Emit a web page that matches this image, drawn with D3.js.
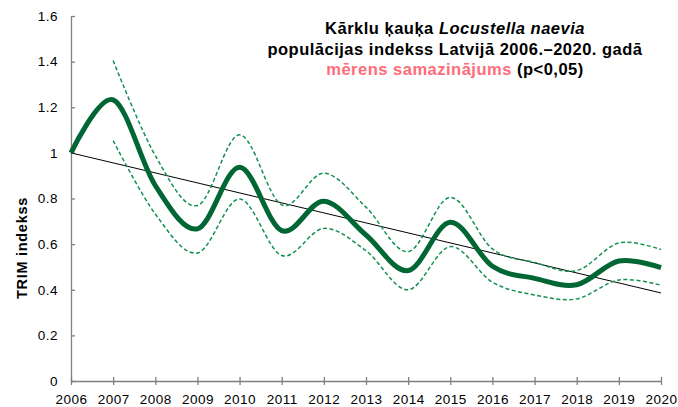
<!DOCTYPE html>
<html>
<head>
<meta charset="utf-8">
<script src="https://cdn.jsdelivr.net/npm/d3@7"></script>
<style>
    body { margin: 0; background: #fff; }
    svg { display: block; font-family: 'Liberation Sans', Arial, sans-serif; }
</style>
</head>
<body>
<svg width="678" height="407"></svg>
<script>
const years = [2006, 2007, 2008, 2009, 2010, 2011, 2012, 2013, 2014, 2015, 2016, 2017, 2018, 2019, 2020];
const index = [1.0, 1.232, 0.857, 0.667, 0.937, 0.659, 0.788, 0.64, 0.484, 0.696, 0.503, 0.45, 0.422, 0.526, 0.497];
const ciYears = years.slice(1);
const upper = [1.405, 0.988, 0.769, 1.079, 0.772, 0.911, 0.762, 0.567, 0.805, 0.579, 0.52, 0.484, 0.605, 0.576];
const lower = [1.054, 0.732, 0.561, 0.798, 0.55, 0.669, 0.571, 0.40, 0.589, 0.433, 0.377, 0.36, 0.443, 0.42];
const trendYears = [2006, 2020];
const trend = [1.0, 0.386];
const yTicks = [0, 0.2, 0.4, 0.6, 0.8, 1, 1.2, 1.4, 1.6];

const svg = d3.select('svg');
const x = d3.scaleLinear().domain([2006, 2020]).range([71, 661]);
const y = d3.scaleLinear().domain([0, 1.6]).range([381, 16]);

// axes, ticks crossing the axis line
const xAxis = svg.append('g')
    .attr('transform', 'translate(0,381)')
    .call(d3.axisBottom(x).tickValues(years).tickFormat(d3.format('d')).tickSize(4).tickSizeOuter(0));
xAxis.selectAll('.tick line').attr('y1', -4);
xAxis.selectAll('text').attr('dy', '1.2em');

const yAxis = svg.append('g')
    .attr('transform', 'translate(71,0)')
    .call(d3.axisLeft(y).tickValues(yTicks).tickFormat(d => String(d)).tickSize(4).tickSizeOuter(0));
yAxis.selectAll('.tick line').attr('x2', 4);
yAxis.selectAll('text').attr('x', -13);

svg.selectAll('.domain, .tick line').attr('stroke', '#7f7f7f').attr('stroke-width', 1.3);
svg.selectAll('.tick text')
    .attr('fill', '#000')
    .style('font-size', '13.5px')
    .style('letter-spacing', '0.5px')
    .style('font-family', "'Liberation Sans', Arial, sans-serif");

svg.append('text')
    .attr('transform', 'translate(27,248) rotate(-90)')
    .attr('text-anchor', 'middle')
    .style('font-size', '14.5px')
    .style('font-weight', 'bold')
    .style('letter-spacing', '0.7px')
    .text('TRIM indekss');

const smooth = d3.line()
    .x(d => x(d[0]))
    .y(d => y(d[1]))
    .curve(d3.curveCatmullRom.alpha(0));

svg.append('path')
    .attr('d', d3.line().x(d => x(d[0])).y(d => y(d[1]))(d3.zip(trendYears, trend)))
    .attr('fill', 'none')
    .attr('stroke', '#000')
    .attr('stroke-width', 1);

[upper, lower].forEach(band => {
    svg.append('path')
        .attr('d', smooth(d3.zip(ciYears, band)))
        .attr('fill', 'none')
        .attr('stroke', '#13904f')
        .attr('stroke-width', 1.5)
        .attr('stroke-dasharray', '4,2.5');
});

svg.append('path')
    .attr('d', smooth(d3.zip(years, index)))
    .attr('fill', 'none')
    .attr('stroke', '#006633')
    .attr('stroke-width', 5)
    .attr('stroke-linejoin', 'round');

// title
const title = svg.append('text')
    .attr('text-anchor', 'middle')
    .style('font-size', '16.5px')
    .style('font-weight', 'bold')
    .style('letter-spacing', '0.5px');
const l1 = title.append('tspan').attr('x', 455).attr('y', 34);
l1.append('tspan').text('Kārklu ķauķa ');
l1.append('tspan').style('font-style', 'italic').text('Locustella naevia');
title.append('tspan').attr('x', 455).attr('y', 55).text('populācijas indekss Latvijā 2006.–2020. gadā');
const l3 = title.append('tspan').attr('x', 455).attr('y', 75);
l3.append('tspan').attr('fill', '#ff6b78').text('mērens samazinājums');
l3.append('tspan').text(' (p<0,05)');
</script>
</body>
</html>
